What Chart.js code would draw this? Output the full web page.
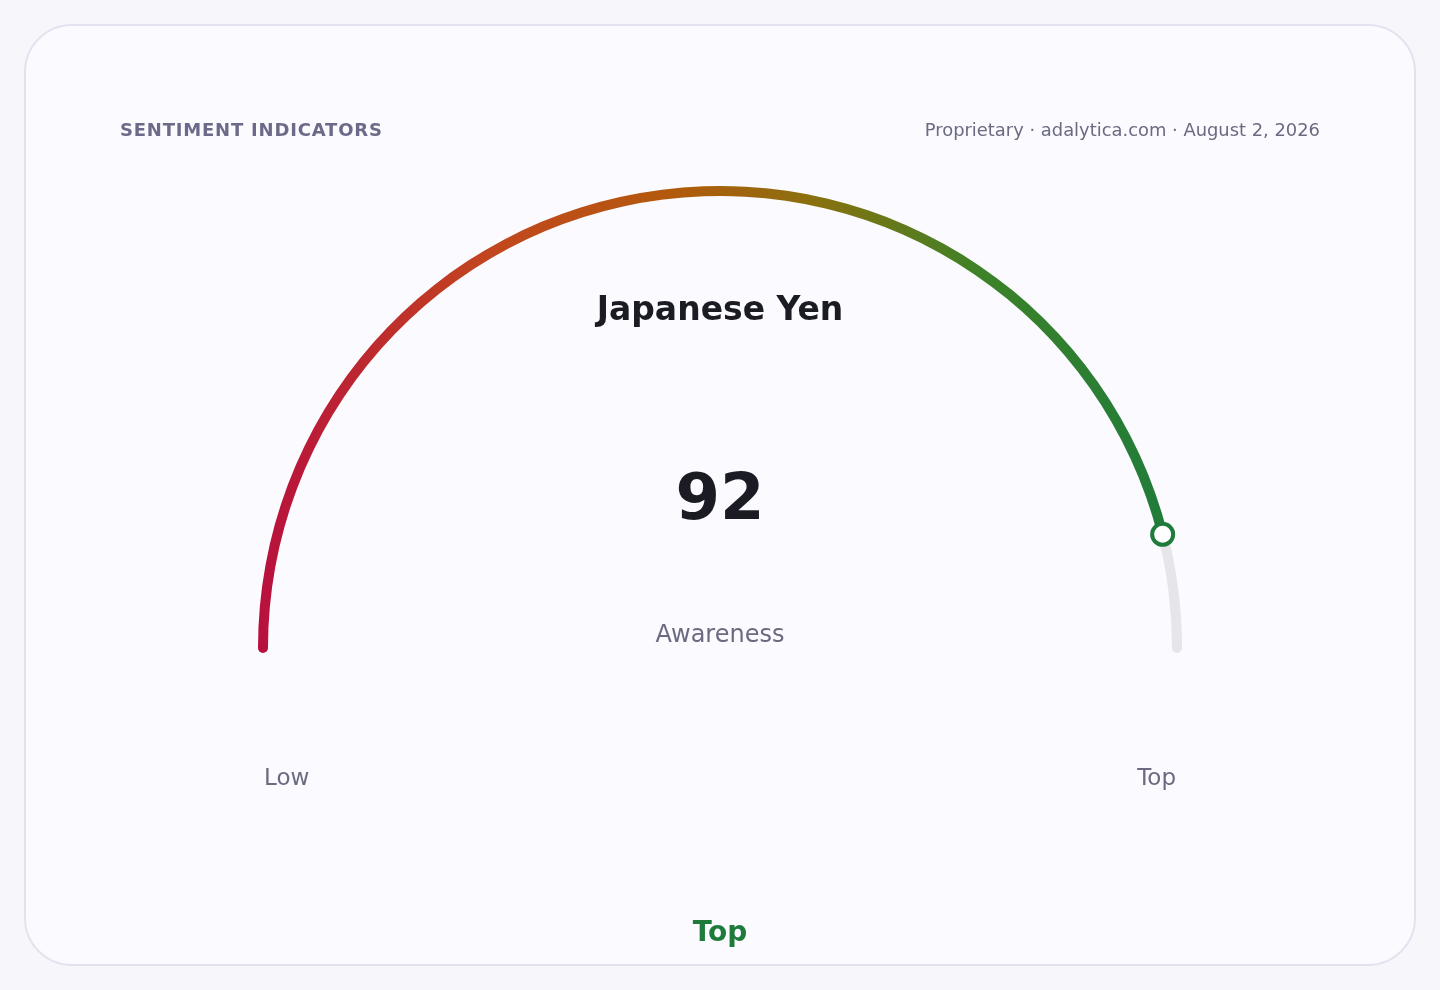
<!DOCTYPE html>
<html lang="en">
<head>
<meta charset="UTF-8">
<title>Sentiment gauge</title>
<script src="https://cdn.jsdelivr.net/npm/chart.js"></script>
<style>
  html, body { margin: 0; padding: 0; }
  body { width: 1440px; height: 990px; background: #f7f7fb; font-family: "DejaVu Sans", sans-serif; position: relative; overflow: hidden; }
  .card { position: absolute; left: 24px; top: 24px; width: 1388px; height: 938px; border: 2px solid #e3e3ef; border-radius: 48px; background: #fafaff; }
  #gauge { position: absolute; left: 0; top: 0; }
  .t { position: absolute; line-height: 1; white-space: nowrap; }
  .center { left: 0; width: 1440px; text-align: center; }
  #kicker { left: 120px; top: 120.5px; font-size: 18px; font-weight: bold; letter-spacing: 0.8px; color: #6b6a88; }
  #source { right: 120px; top: 120.5px; font-size: 17.9px; color: #6b6a80; }
  #name { top: 292px; font-size: 33px; font-weight: bold; color: #1b1b24; }
  #value { top: 465px; font-size: 64px; font-weight: bold; color: #1b1b24; }
  #metric { top: 622px; font-size: 24px; color: #6b6a80; }
  #low { left: 264px; top: 766px; font-size: 23px; color: #6b6a80; }
  #high { right: 264px; top: 766px; font-size: 23px; color: #6b6a80; }
  #rating { top: 918px; font-size: 28px; font-weight: bold; color: #1e7b3c; }
</style>
</head>
<body>
<div class="card"></div>
<canvas id="gauge" width="1440" height="990"></canvas>

<div class="t" id="kicker"></div>
<div class="t" id="source"></div>
<div class="t center" id="name"></div>
<div class="t center" id="value"></div>
<div class="t center" id="metric"></div>
<div class="t" id="low"></div>
<div class="t" id="high"></div>
<div class="t center" id="rating"></div>

<script>
  // gauge data
  const segmentLabels = ['Awareness', 'Remaining'];
  const scoreMax = 100;
  const score = 92;
  const segmentValues = [score, scoreMax - score];
  const scaleLabels = ['Low', 'Top'];
  const currency = 'Japanese Yen';
  const rating = 'Top';
  const kicker = 'SENTIMENT INDICATORS';
  const source = 'Proprietary · adalytica.com · August 2, 2026';

  document.getElementById('kicker').textContent = kicker;
  document.getElementById('source').textContent = source;
  document.getElementById('name').textContent = currency;
  document.getElementById('value').textContent = score;
  document.getElementById('metric').textContent = segmentLabels[0];
  document.getElementById('low').textContent = scaleLabels[0];
  document.getElementById('high').textContent = scaleLabels[1];
  document.getElementById('rating').textContent = rating;

  const green = '#1e7b3c';
  const red = '#b8103e';
  const track = '#e5e5ea';

  function arcColor(context) {
    if (context.dataIndex === 1) return track;
    const area = context.chart.chartArea;
    if (!area) return red;
    const g = context.chart.ctx.createLinearGradient(area.left, 0, area.right, 0);
    g.addColorStop(0, red);
    g.addColorStop(0.25, '#c2461e');
    g.addColorStop(0.45, '#b25a0c');
    g.addColorStop(0.6, '#8a700f');
    g.addColorStop(0.78, '#3d8227');
    g.addColorStop(1, green);
    return g;
  }

  function dot(ctx, x, y, r, fill) {
    ctx.beginPath();
    ctx.arc(x, y, r, 0, Math.PI * 2);
    ctx.fillStyle = fill;
    ctx.fill();
  }

  // round caps at both ends and a ring at the current value, from the arc elements
  const markerPlugin = {
    id: 'marker',
    afterDatasetsDraw(chart) {
      const meta = chart.getDatasetMeta(0);
      const first = meta.data[0];
      const last = meta.data[meta.data.length - 1];
      if (!first || !last) return;
      const p = first.getProps(['x', 'y', 'startAngle', 'endAngle', 'innerRadius', 'outerRadius'], true);
      const q = last.getProps(['endAngle'], true);
      const r = (p.innerRadius + p.outerRadius) / 2;
      const half = (p.outerRadius - p.innerRadius) / 2;
      const ctx = chart.ctx;
      ctx.save();
      dot(ctx, p.x + Math.cos(p.startAngle) * r, p.y + Math.sin(p.startAngle) * r, half, red);
      dot(ctx, p.x + Math.cos(q.endAngle) * r, p.y + Math.sin(q.endAngle) * r, half, track);
      const cx = p.x + Math.cos(p.endAngle) * r;
      const cy = p.y + Math.sin(p.endAngle) * r;
      dot(ctx, cx, cy, 10.5, '#ffffff');
      ctx.lineWidth = 4;
      ctx.strokeStyle = green;
      ctx.stroke();
      ctx.restore();
    }
  };

  new Chart(document.getElementById('gauge'), {
    type: 'doughnut',
    data: {
      labels: segmentLabels,
      datasets: [{
        data: segmentValues,
        backgroundColor: arcColor,
        borderWidth: 0,
        borderRadius: 0
      }]
    },
    options: {
      responsive: false,
      animation: false,
      rotation: -90,
      circumference: 180,
      cutout: '97.84%',
      layout: { padding: { left: 258, right: 258, top: 186, bottom: 342 } },
      plugins: {
        legend: { display: false },
        tooltip: { enabled: false }
      }
    },
    plugins: [markerPlugin]
  });
</script>
</body>
</html>
